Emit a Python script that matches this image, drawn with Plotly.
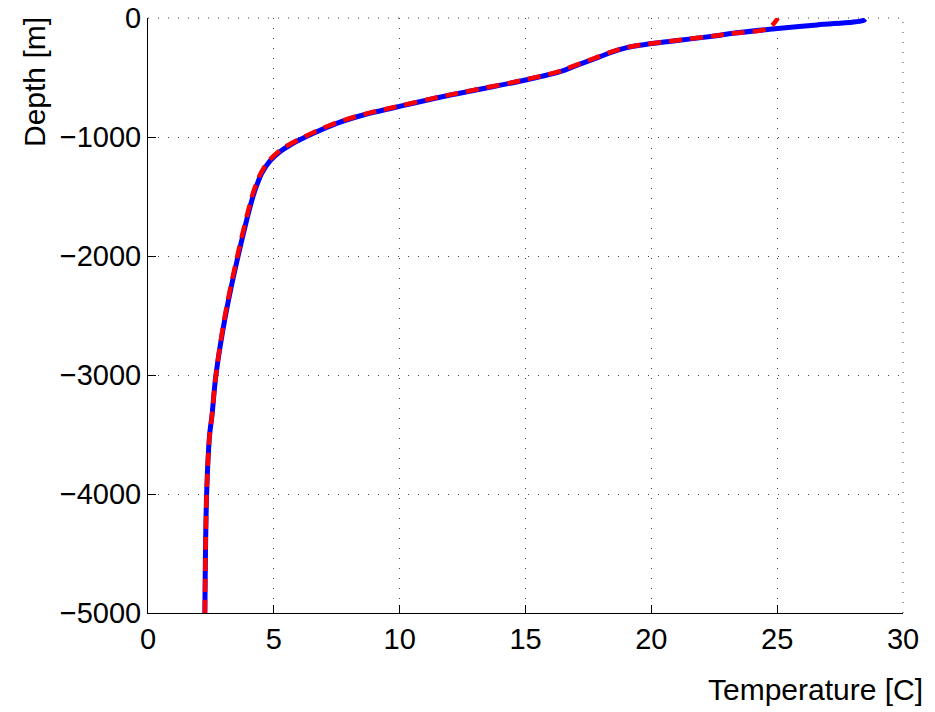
import plotly.graph_objects as go

# Blue profile (solid)
blue_temp = [2.26, 2.33, 2.45, 2.54, 2.70, 3.08, 3.58, 4.17, 4.33, 4.53, 4.85, 5.24, 5.65,
             6.57, 7.5, 8.55, 9.85, 11.6, 13.19, 15.0, 16.37, 16.9, 17.43, 17.96, 18.49,
             19.02, 19.81, 20.87, 22.59, 23.24, 24.7, 26.58, 28.4, 28.5]
blue_depth = [-5000, -4000, -3500, -3345, -3000, -2500, -2000, -1500, -1400, -1300, -1200, -1124, -1067,
              -969, -885, -815, -750, -666, -599, -521, -451, -409, -367, -325, -283,
              -249, -221, -193, -149, -129, -95, -58, -22, -8]

# Red profile (dashed)
red_temp = [2.26, 2.33, 2.45, 2.54, 2.70, 3.06, 3.55, 4.13, 4.29, 4.49, 4.80, 5.18, 5.58,
            6.50, 7.42, 8.47, 9.77, 11.52, 13.1, 14.92, 16.3, 16.84, 17.37, 17.9, 18.43,
            18.96, 19.75, 20.8, 22.52, 23.18, 24.63, 25.03]
red_depth = [-5000, -4000, -3500, -3345, -3000, -2500, -2000, -1500, -1400, -1300, -1200, -1124, -1067,
             -969, -885, -815, -750, -666, -599, -521, -451, -409, -367, -325, -283,
             -249, -221, -193, -149, -129, -87, 0]

x_ticks = [0, 5, 10, 15, 20, 25, 30]
y_ticks = [-5000, -4000, -3000, -2000, -1000, 0]

FONT = "Liberation Sans, Arial, sans-serif"

fig = go.Figure()
fig.add_trace(go.Scatter(x=blue_temp, y=blue_depth, mode="lines",
                         line=dict(color="#0000ff", width=5, shape="spline", smoothing=1.0),
                         showlegend=False))
fig.add_trace(go.Scatter(x=red_temp, y=red_depth, mode="lines",
                         line=dict(color="#ff0000", width=4.5, dash="13px,8px", shape="spline", smoothing=1.0),
                         showlegend=False))

grid = dict(showgrid=True, gridcolor="#444444", gridwidth=1, griddash="1px,9px")

fig.update_xaxes(range=[0, 30], tickvals=x_ticks, ticks="inside", ticklen=8, tickcolor="black",
                 showline=True, linecolor="black", linewidth=1, zeroline=False, automargin=False,
                 ticklabeloverflow="allow",
                 tickfont=dict(family=FONT, size=29, color="black"), **grid)
fig.update_yaxes(range=[-5000, 0], tickvals=y_ticks, ticks="inside", ticklen=8, tickcolor="black",
                 showline=True, linecolor="black", linewidth=1, zeroline=False, automargin=False,
                 ticklabeloverflow="allow",
                 tickfont=dict(family=FONT, size=29, color="black"), **grid)

# dotted top and right edges
fig.add_shape(type="line", xref="paper", yref="paper", x0=0, x1=1, y0=1, y1=1,
              line=dict(color="#444444", width=1, dash="1px,9px"))
fig.add_shape(type="line", xref="paper", yref="paper", x0=1, x1=1, y0=0, y1=1,
              line=dict(color="#444444", width=1, dash="1px,9px"))

fig.add_annotation(text="Temperature [C]", xref="paper", yref="paper", x=1.029, y=-0.129,
                   xanchor="right", yanchor="middle", showarrow=False,
                   font=dict(family=FONT, size=30, color="black"))
fig.add_annotation(text="Depth [m]", xref="paper", yref="paper", x=-0.150, y=0.892,
                   xanchor="center", yanchor="middle", textangle=-90, showarrow=False,
                   font=dict(family=FONT, size=30, color="black"))

# page body adds an 8px offset, so the figure is sized 8px smaller
fig.update_layout(width=927, height=704, margin=dict(l=140, r=32, t=10, b=99),
                  plot_bgcolor="white", paper_bgcolor="white")
fig.write_html("out.html")
